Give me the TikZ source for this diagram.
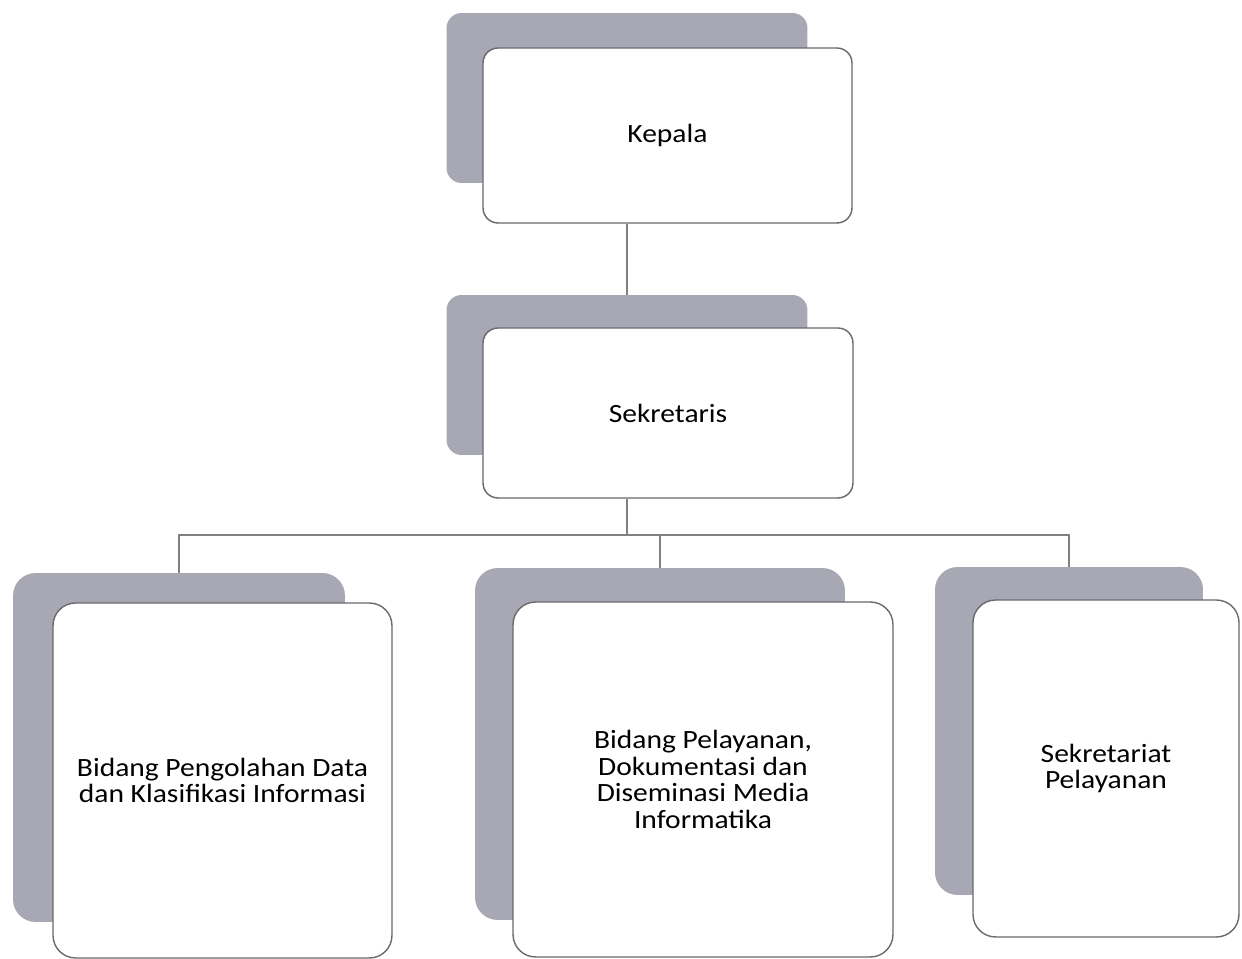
\documentclass[tikz,border=0pt]{standalone}
\usepackage{fontspec}
\setmainfont{Carlito}[FakeStretch=1.12]
\usetikzlibrary{positioning}
\definecolor{shadegrey}{RGB}{168,168,180}
\definecolor{edgegrey}{RGB}{105,105,110}
\tikzset
{
    backbox/.style  = {rectangle, rounded corners=#1, fill=shadegrey, inner sep=0pt},
    backbox/.default = 0.3cm,
    frontbox/.style = {rectangle, rounded corners=#1, draw=edgegrey, fill=white, line width=0.8pt, align=center, inner sep=4pt, font=\fontsize{15}{15.2}\selectfont},
    frontbox/.default = 0.3cm,
    link/.style     = {draw=gray, line width=1pt}
}

\begin{document}
\begin{tikzpicture}[x=0.02cm, y=-0.02cm]
    \useasboundingbox (0,0) rectangle (1242,959);
    % top level
    \node [backbox, minimum width=7.22cm, minimum height=3.4cm] (kepalaBg) at (627,98) {};
    \node [frontbox, minimum width=7.38cm, minimum height=3.5cm] (kepala) at (667.5,135.5) {Kepala};
    \node [backbox, minimum width=7.22cm, minimum height=3.2cm] (sekretarisBg) at (627,375) {};
    \node [frontbox, minimum width=7.4cm, minimum height=3.4cm] (sekretaris) at (668,413) {Sekretaris};
    % bottom level
    \node [backbox=0.45cm, minimum width=6.64cm, minimum height=6.98cm] (bidangDataBg) at (179,747.5) {};
    \node [frontbox=0.45cm, minimum width=6.78cm, minimum height=7.1cm] (bidangData) at (222.5,780.5) {Bidang Pengolahan Data\\dan Klasifikasi Informasi};
    \node [backbox=0.45cm, minimum width=7.4cm, minimum height=7.04cm] (bidangLayananBg) at (660,744) {};
    \node [frontbox=0.45cm, minimum width=7.6cm, minimum height=7.1cm] (bidangLayanan) at (703,779.5) {Bidang Pelayanan,\\Dokumentasi dan\\Diseminasi Media\\Informatika};
    \node [backbox=0.45cm, minimum width=5.36cm, minimum height=6.56cm] (sekretariatBg) at (1069,731) {};
    \node [frontbox=0.45cm, minimum width=5.32cm, minimum height=6.74cm] (sekretariat) at (1106,768.5) {Sekretariat\\Pelayanan};
    % connectors
    \coordinate (bus) at (627,535);
    \draw [link] (kepalaBg.center |- kepala.south) -- (sekretarisBg.north);
    \draw [link] (sekretarisBg.center |- sekretaris.south) -- (bus);
    \foreach \n in {bidangData, bidangLayanan, sekretariat}
        \draw [link] (bus) -| (\n Bg.north);
\end{tikzpicture}
\end{document}
